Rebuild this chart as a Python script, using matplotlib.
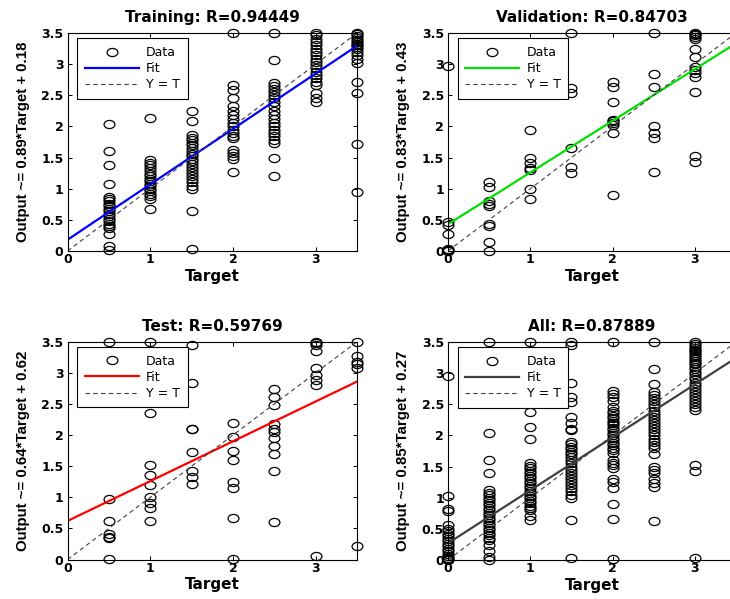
import numpy as np
import matplotlib
matplotlib.use("Agg")
import matplotlib.pyplot as plt
from matplotlib.path import Path
import matplotlib.transforms as mtransforms

# regression plots: Training / Validation / Test / All
# values

TRAIN_T = [0.5, 1, 1.5, 2, 2.5, 3, 3.5]
TRAIN_Y = [
    [2.04, 1.61, 1.38, 1.07, 0.87, 0.84, 0.8, 0.76, 0.72, 0.68, 0.64, 0.6, 0.56, 0.52,
     0.48, 0.44, 0.4, 0.37, 0.27, 0.08, 0.01],
    [2.13, 1.46, 1.42, 1.38, 1.33, 1.28, 1.24, 1.2, 1.16, 1.12, 1.08, 1.04, 1.0, 0.96,
     0.92, 0.88, 0.84, 0.68],
    [2.24, 2.09, 1.86, 1.82, 1.78, 1.74, 1.7, 1.65, 1.6, 1.56, 1.52, 1.48, 1.44, 1.4,
     1.35, 1.3, 1.25, 1.2, 1.15, 1.1, 1.05, 1.0, 0.64, 0.03],
    [3.5, 2.66, 2.58, 2.45, 2.32, 2.25, 2.18, 2.12, 2.06, 2.0, 1.95, 1.9, 1.85, 1.81,
     1.62, 1.57, 1.52, 1.47, 1.27],
    [3.5, 3.07, 2.69, 2.65, 2.6, 2.55, 2.5, 2.45, 2.4, 2.32, 2.25, 2.18, 2.12, 2.05,
     2.0, 1.95, 1.9, 1.85, 1.78, 1.73, 1.49, 1.21],
    [3.5, 3.46, 3.41, 3.36, 3.31, 3.25, 3.2, 3.15, 3.09, 3.04, 2.99, 2.94, 2.88, 2.82,
     2.77, 2.72, 2.66, 2.53, 2.45, 2.4],
    [3.5, 3.48, 3.45, 3.42, 3.39, 3.36, 3.33, 3.3, 3.27, 3.24, 3.2, 3.15, 3.08, 3.02,
     2.72, 2.54, 1.71, 0.95],
]

VAL_T = [0, 0.5, 1, 1.5, 2, 2.5, 3]
VAL_Y = [
    [2.97, 0.47, 0.42, 0.27, 0.03, 0.01, 0.0],
    [1.11, 1.02, 0.8, 0.76, 0.72, 0.44, 0.4, 0.14, 0.0],
    [1.95, 1.49, 1.41, 1.33, 1.3, 1.0, 0.84],
    [3.5, 2.62, 2.54, 1.65, 1.35, 1.25],
    [2.72, 2.64, 2.39, 2.1, 2.08, 2.05, 2.02, 1.89, 0.9],
    [3.5, 2.84, 2.64, 2.0, 1.89, 1.81, 1.27],
    [3.5, 3.48, 3.46, 3.43, 3.4, 3.25, 3.12, 2.95, 2.9, 2.85, 2.8, 2.56, 1.53, 1.43],
]

TEST_T = [0.5, 1, 1.5, 2, 2.5, 3, 3.5]
TEST_Y = [
    [3.5, 0.97, 0.62, 0.41, 0.37, 0.34, 0.01],
    [3.5, 2.35, 1.52, 1.36, 1.2, 1.0, 0.91, 0.82, 0.62],
    [3.44, 2.84, 2.1, 2.09, 1.72, 1.42, 1.32, 1.22],
    [2.19, 1.97, 1.75, 1.6, 1.25, 1.15, 0.66, 0.01],
    [2.74, 2.61, 2.49, 2.17, 2.09, 2.05, 1.96, 1.83, 1.7, 1.43, 0.61],
    [3.5, 3.48, 3.45, 3.35, 3.07, 2.97, 2.89, 2.81, 0.05],
    [3.5, 3.27, 3.18, 3.14, 3.08, 0.22],
]

ALL_T = [0, 0.5, 1, 1.5, 2, 2.5, 3]
ALL_Y = [
    [2.96, 1.02, 0.82, 0.79, 0.57, 0.5, 0.46, 0.42, 0.38, 0.34, 0.3, 0.26, 0.22, 0.18,
     0.14, 0.1, 0.06, 0.03, 0.01, 0.0],
    [3.5, 2.04, 1.6, 1.4, 1.12, 1.08, 1.04, 1.0, 0.96, 0.92, 0.88, 0.84, 0.8, 0.76,
     0.72, 0.68, 0.64, 0.6, 0.56, 0.52, 0.48, 0.44, 0.4, 0.36, 0.32, 0.24, 0.14, 0.05, 0.0],
    [3.5, 2.38, 2.13, 1.94, 1.55, 1.51, 1.47, 1.43, 1.39, 1.35, 1.31, 1.27, 1.23, 1.19,
     1.15, 1.11, 1.07, 1.03, 0.99, 0.95, 0.91, 0.87, 0.83, 0.8, 0.7, 0.65],
    [3.5, 3.45, 2.84, 2.62, 2.54, 2.3, 2.2, 2.1, 2.08, 1.9, 1.86, 1.82, 1.78, 1.74,
     1.7, 1.65, 1.6, 1.55, 1.5, 1.45, 1.4, 1.35, 1.3, 1.25, 1.2, 1.15, 1.1, 1.05, 1.0,
     0.64, 0.04],
    [3.5, 2.72, 2.67, 2.62, 2.56, 2.45, 2.4, 2.36, 2.32, 2.28, 2.24, 2.2, 2.16, 2.12,
     2.08, 2.04, 2.0, 1.96, 1.92, 1.88, 1.84, 1.8, 1.76, 1.72, 1.6, 1.56, 1.52, 1.48,
     1.3, 1.25, 1.15, 0.9, 0.66, 0.02],
    [3.5, 3.07, 2.82, 2.7, 2.65, 2.6, 2.55, 2.5, 2.45, 2.4, 2.35, 2.3, 2.25, 2.2, 2.15,
     2.1, 2.05, 2.0, 1.95, 1.9, 1.85, 1.8, 1.7, 1.5, 1.45, 1.4, 1.3, 1.24, 1.18, 0.62],
    [3.5, 3.47, 3.44, 3.41, 3.38, 3.35, 3.32, 3.29, 3.26, 3.23, 3.2, 3.17, 3.14, 3.1,
     3.06, 3.02, 2.98, 2.94, 2.9, 2.85, 2.8, 2.75, 2.7, 2.65, 2.6, 2.55, 2.5, 2.45,
     2.41, 1.53, 1.43, 0.04],
]

TITLES = ["Training: R=0.94449", "Validation: R=0.84703", "Test: R=0.59769", "All: R=0.87889"]
SLOPES = [0.89, 0.83, 0.64, 0.85]
INTERCEPTS = [0.18, 0.43, 0.62, 0.27]
FIT_COLORS = ["#0000ff", "#00e000", "#ff0000", "#404040"]

X_TICKS = [0, 1, 2, 3]
Y_TICKS = [0, 0.5, 1, 1.5, 2, 2.5, 3, 3.5]
Y_TICKLABELS = ["0", "0.5", "1", "1.5", "2", "2.5", "3", "3.5"]

# axes rectangles in figure fraction (730 x 599 px canvas)
RECTS = [
    [0.0925, 0.581, 0.3966, 0.3639],
    [0.6137, 0.581, 0.3945, 0.3639],
    [0.0925, 0.0659, 0.3966, 0.3636],
    [0.6137, 0.0651, 0.3945, 0.3639],
]

# open circles look slightly wider than tall in the reference
ellipse = Path.unit_circle().transformed(mtransforms.Affine2D().scale(1.0, 0.75))

fig = plt.figure(figsize=(7.3, 5.99), dpi=100)
fig.patch.set_facecolor("white")

datasets = [(TRAIN_T, TRAIN_Y), (VAL_T, VAL_Y), (TEST_T, TEST_Y), (ALL_T, ALL_Y)]

for i, (targets, outputs) in enumerate(datasets):
    ax = fig.add_axes(RECTS[i])
    xs = np.concatenate([[t] * len(ys) for t, ys in zip(targets, outputs)])
    ys = np.concatenate([np.asarray(v, dtype=float) for v in outputs])

    ax.plot(xs, ys, linestyle="none", marker=ellipse, markersize=7.8,
            markerfacecolor="none", markeredgecolor="black", markeredgewidth=0.9,
            label="Data", clip_on=False, zorder=2)
    line_x = np.array([0, 3.5])
    ax.plot(line_x, SLOPES[i] * line_x + INTERCEPTS[i], color=FIT_COLORS[i], lw=1.6,
            label="Fit", zorder=3)
    ax.plot(line_x, line_x, color="#404040", lw=0.8, linestyle=(0, (4, 3)),
            label="Y = T", zorder=3)

    ax.set_xlim(0, 3.5)
    ax.set_ylim(0, 3.5)
    ax.set_xticks(X_TICKS)
    ax.set_yticks(Y_TICKS)
    ax.set_xticklabels([str(t) for t in X_TICKS], fontsize=9, fontweight="bold")
    ax.set_yticklabels(Y_TICKLABELS, fontsize=9, fontweight="bold")
    ax.tick_params(direction="in", length=3, width=0.75, top=True, right=True)
    ax.tick_params(axis="x", pad=1.5)
    ax.tick_params(axis="y", pad=3)
    for sp in ax.spines.values():
        sp.set_linewidth(0.8)
        sp.set_zorder(4)

    ax.set_title(TITLES[i], fontsize=11, fontweight="bold", pad=8)
    ax.set_xlabel("Target", fontsize=11, fontweight="bold", labelpad=2)
    ax.set_ylabel(f"Output ~= {SLOPES[i]:.2f}*Target + {INTERCEPTS[i]:.2f}",
                  fontsize=10.8, fontweight="bold", family="Liberation Sans", labelpad=8)

    leg = ax.legend(loc="upper left", bbox_to_anchor=(0.034, 0.975), borderaxespad=0,
                    fontsize=9, numpoints=1, handlelength=4.3, handletextpad=0.6,
                    labelspacing=0.25, borderpad=0.6, fancybox=False, framealpha=1)
    leg.get_frame().set_edgecolor("black")
    leg.get_frame().set_linewidth(0.8)
    leg.set_zorder(5)

fig.savefig("out.png", dpi=100)
